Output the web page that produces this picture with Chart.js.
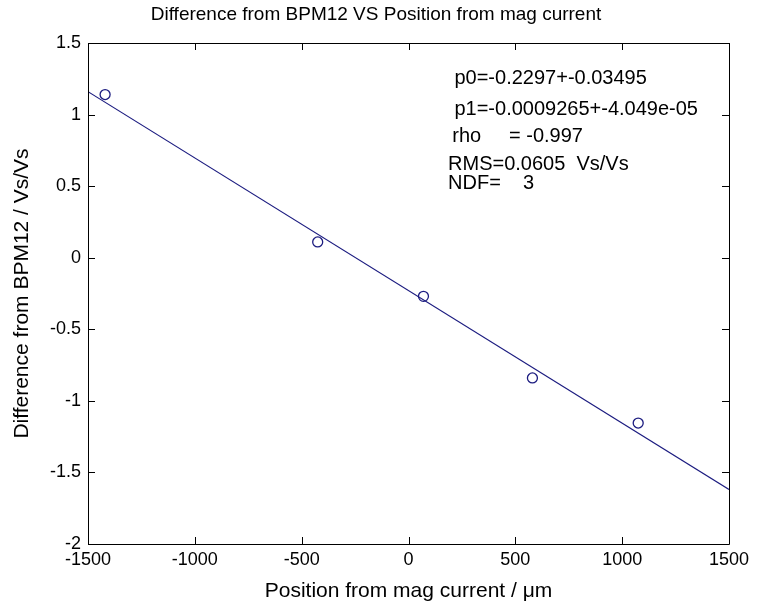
<!DOCTYPE html>
<html>
<head>
<meta charset="utf-8">
<script src="https://cdn.jsdelivr.net/npm/chart.js@4.4.1/dist/chart.umd.min.js"></script>
<style>
  html, body { margin: 0; padding: 0; background: #ffffff; }
  #wrap { width: 760px; height: 606px; }
</style>
</head>
<body>
<div id="wrap"><canvas id="c" width="760" height="606"></canvas></div>
<script>
// ---- data ----
const titleText = 'Difference from BPM12 VS Position from mag current';
const xTitle = 'Position from mag current / \u03bcm';
const yTitle = 'Difference from BPM12 / Vs/Vs';

const posX = [-1420, -425, 70, 580, 1075];
const diffY = [1.14, 0.11, -0.27, -0.84, -1.155];

// fitted line end points (from p0, p1 in the box)
const fitX = [-1500, 1500];
const fitY = [1.160, -1.619];

const xTicks = [-1500, -1000, -500, 0, 500, 1000, 1500];
const yTicks = [-2, -1.5, -1, -0.5, 0, 0.5, 1, 1.5];

const fitLines = [
  'p0=-0.2297+-0.03495',
  'p1=-0.0009265+-4.049e-05',
  'rho     = -0.997',
  'RMS=0.0605  Vs/Vs',
  'NDF=    3'
];

const FONT = 'Liberation Sans, Arial, sans-serif';
const NAVY = '#1c1c80';

const boxTicks = {
  id: 'boxTicks',
  afterDraw(chart) {
    const {ctx, chartArea: a, scales} = chart;
    const L = 7;
    ctx.save();
    ctx.strokeStyle = '#000';
    ctx.lineWidth = 1;
    ctx.beginPath();
    ctx.rect(Math.round(a.left) + 0.5, Math.round(a.top) + 0.5,
             Math.round(a.right - a.left), Math.round(a.bottom - a.top));
    xTicks.forEach(v => {
      const px = Math.round(scales.x.getPixelForValue(v)) + 0.5;
      ctx.moveTo(px, a.bottom); ctx.lineTo(px, a.bottom - L);
      ctx.moveTo(px, a.top); ctx.lineTo(px, a.top + L);
    });
    yTicks.forEach(v => {
      const py = Math.round(scales.y.getPixelForValue(v)) + 0.5;
      ctx.moveTo(a.left, py); ctx.lineTo(a.left + L, py);
      ctx.moveTo(a.right, py); ctx.lineTo(a.right - L, py);
    });
    ctx.stroke();

    // fit result text
    ctx.fillStyle = '#000';
    ctx.font = '20px ' + FONT;
    ctx.textBaseline = 'middle';
    ctx.textAlign = 'left';
    const xs = [215, 215, 205, 185, 185];
    const ys = [1.255, 1.035, 0.845, 0.65, 0.52];
    fitLines.forEach((t, i) => {
      ctx.fillText(t, scales.x.getPixelForValue(xs[i]), scales.y.getPixelForValue(ys[i]));
    });
    ctx.restore();
  }
};

new Chart(document.getElementById('c'), {
  type: 'scatter',
  data: {
    datasets: [
      {
        label: 'fit',
        type: 'line',
        data: fitX.map((x, i) => ({x, y: fitY[i]})),
        borderColor: NAVY,
        borderWidth: 1.2,
        pointRadius: 0,
        fill: false,
        tension: 0
      },
      {
        label: 'data',
        data: posX.map((x, i) => ({x, y: diffY[i]})),
        pointStyle: 'circle',
        pointRadius: 5,
        pointBorderWidth: 1.3,
        pointBorderColor: NAVY,
        pointBackgroundColor: 'rgba(0,0,0,0)',
        showLine: false
      }
    ]
  },
  options: {
    responsive: false,
    animation: false,
    devicePixelRatio: 1,
    layout: { padding: { left: 0, right: 8, top: 0, bottom: 0 } },
    plugins: {
      legend: { display: false },
      tooltip: { enabled: false },
      title: {
        display: true,
        text: titleText,
        color: '#000',
        font: { family: FONT, size: 19, weight: 'normal' },
        padding: { top: 3, bottom: 17.2 }
      }
    },
    scales: {
      x: {
        type: 'linear',
        min: -1500, max: 1500,
        afterFit: s => { s.height = 62; },
        afterBuildTicks: s => { s.ticks = xTicks.map(v => ({value: v})); },
        grid: { display: true, drawOnChartArea: false, drawTicks: false },
        border: { display: false },
        ticks: {
          color: '#000', padding: 5,
          font: { family: FONT, size: 18 },
          callback: v => String(v)
        },
        title: {
          display: true, text: xTitle, color: '#000',
          font: { family: FONT, size: 21 },
          padding: { top: 0, bottom: 2.4 }
        }
      },
      y: {
        type: 'linear',
        min: -2, max: 1.5,
        afterFit: s => { s.width = 88; },
        afterBuildTicks: s => { s.ticks = yTicks.map(v => ({value: v})); },
        grid: { display: true, drawOnChartArea: false, drawTicks: false },
        border: { display: false },
        ticks: {
          color: '#000', padding: 7,
          font: { family: FONT, size: 18 },
          callback: v => String(v)
        },
        title: {
          display: true, text: yTitle, color: '#000',
          font: { family: FONT, size: 21 },
          padding: { top: 9.5, bottom: 0 }
        }
      },
      yRight: {
        type: 'linear',
        position: 'right',
        min: -2, max: 1.5,
        afterFit: s => { s.width = 23; },
        grid: { display: false },
        border: { display: false },
        ticks: { display: false }
      }
    }
  },
  plugins: [boxTicks]
});
</script>
</body>
</html>
